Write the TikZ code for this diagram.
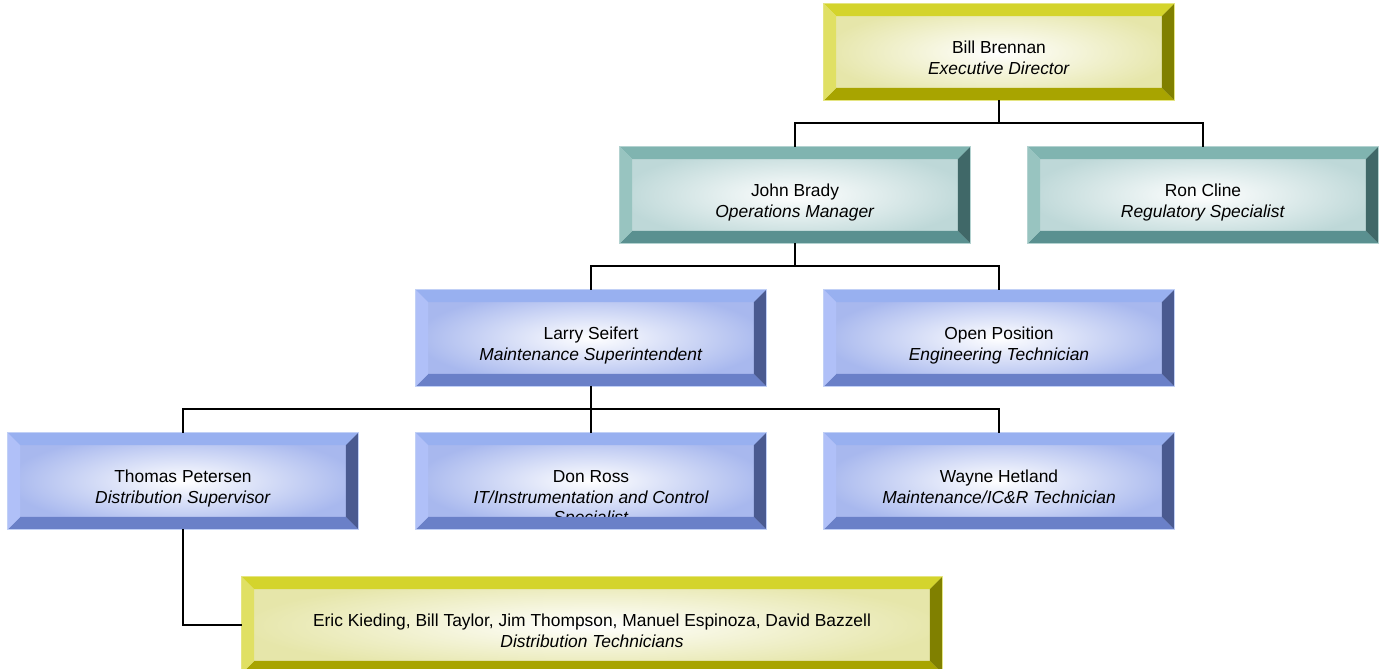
\documentclass[tikz,border=0pt]{standalone}
\usepackage{fontspec}
\setmainfont{Liberation Sans}

\definecolor{yeltop}{RGB}{212,212,44}
\definecolor{yelleft}{RGB}{224,224,100}
\definecolor{yelright}{RGB}{128,128,0}
\definecolor{yelbot}{RGB}{168,164,0}
\definecolor{yelface}{RGB}{230,230,170}
\definecolor{teatop}{RGB}{128,180,176}
\definecolor{tealeft}{RGB}{152,196,192}
\definecolor{tearight}{RGB}{64,104,104}
\definecolor{teabot}{RGB}{90,144,144}
\definecolor{teaface}{RGB}{190,216,216}
\definecolor{blutop}{RGB}{152,176,240}
\definecolor{bluleft}{RGB}{176,192,248}
\definecolor{bluright}{RGB}{74,90,144}
\definecolor{blubot}{RGB}{106,128,200}
\definecolor{bluface}{RGB}{168,184,238}

\newcommand\orgfont{\fontsize{9.9}{11.4}\selectfont}
\newcommand\who[3][6cm]{\parbox[c][13.7pt][t]{#1}{\centering\strut #2\\\textit{#3}}}
\def\bevw{0.25cm}
\newcommand\bevel[2]{%
  \fill[#2top] (#1.north west) -- (#1.north east) -- ([shift={(-\bevw,-\bevw)}]#1.north east) -- ([shift={(\bevw,-\bevw)}]#1.north west) -- cycle;
  \fill[#2bot] (#1.south west) -- (#1.south east) -- ([shift={(-\bevw,\bevw)}]#1.south east) -- ([shift={(\bevw,\bevw)}]#1.south west) -- cycle;
  \fill[#2left] (#1.north west) -- ([shift={(\bevw,-\bevw)}]#1.north west) -- ([shift={(\bevw,\bevw)}]#1.south west) -- (#1.south west) -- cycle;
  \fill[#2right] (#1.north east) -- ([shift={(-\bevw,-\bevw)}]#1.north east) -- ([shift={(-\bevw,\bevw)}]#1.south east) -- (#1.south east) -- cycle;
  \draw[#2top!60!white, line width=0.4pt] (#1.north west) rectangle (#1.south east);
}

\tikzset{
  post/.style={minimum width=7cm, minimum height=1.92cm, inner sep=0pt, font=\orgfont,
    shade, shading=radial, inner color=white, outer color=#1face},
  link/.style={line width=1pt},
}

\begin{document}
\begin{tikzpicture}[x=0.2mm, y=-0.2mm]
    \useasboundingbox (0,0) rectangle (1384,669);

    \node[post=yel] (bill) at (999,52) {\who{Bill Brennan}{Executive Director}};

    \node[post=tea] (john) at (795,195) {\who{John Brady}{Operations Manager}};
    \node[post=tea] (ron) at (1203,195) {\who{Ron Cline}{Regulatory Specialist}};

    \node[post=blu] (larry) at (591,338) {\who{Larry Seifert}{Maintenance Superintendent}};
    \node[post=blu] (open) at (999,338) {\who{Open Position}{Engineering Technician}};

    \node[post=blu] (thomas) at (183,481) {\who{Thomas Petersen}{Distribution Supervisor}};
    \node[post=blu] (don) at (591,481) {\who{Don Ross}{IT/Instrumentation and Control Specialist}};
    \node[post=blu] (wayne) at (999,481) {\who{Wayne Hetland}{Maintenance/IC\&R Technician}};

    \node[post=yel, minimum width=14cm] (techs) at (592,625)
        {\who[13cm]{Eric Kieding, Bill Taylor, Jim Thompson, Manuel Espinoza, David Bazzell}{Distribution Technicians}};

    \bevel{bill}{yel}
    \bevel{john}{tea}
    \bevel{ron}{tea}
    \bevel{larry}{blu}
    \bevel{open}{blu}
    \bevel{thomas}{blu}
    \bevel{don}{blu}
    \bevel{wayne}{blu}
    \bevel{techs}{yel}

    \coordinate (bus1) at (999,123);
    \coordinate (bus2) at (795,266);
    \coordinate (bus3) at (591,409);

    \draw[link] (bill.south) -- (bus1);
    \draw[link] (john.north) |- (bus1) -| (ron.north);
    \draw[link] (john.south) -- (bus2);
    \draw[link] (larry.north) |- (bus2) -| (open.north);
    \draw[link] (larry.south) -- (don.north);
    \draw[link] (thomas.north) |- (bus3) -| (wayne.north);
    \draw[link] (thomas.south) |- (techs.west);
\end{tikzpicture}
\end{document}
